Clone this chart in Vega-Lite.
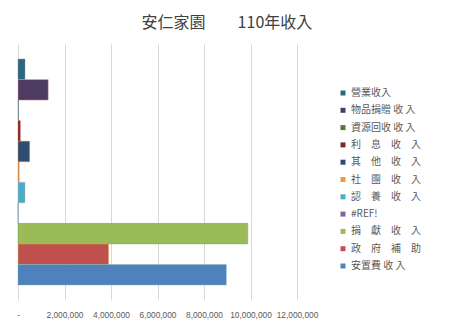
{
  "$schema": "https://vega.github.io/schema/vega-lite/v6.json",
  "width": 279,
  "height": 256,
  "autosize": {"type": "none"},
  "padding": {"left": 18, "top": 44, "right": 158, "bottom": 27},
  "background": "white",
  "title": {
    "text": "安仁家園　　110年收入",
    "font": "Noto Sans CJK TC",
    "fontSize": 16,
    "fontWeight": "normal",
    "color": "#404040",
    "anchor": "start",
    "dx": 125,
    "offset": 13
  },
  "data": {
    "values": [
      {"series": "營業收入", "value": 300000},
      {"series": "物品捐贈 收 入", "value": 1300000},
      {"series": "資源回收 收 入", "value": 20000},
      {"series": "利　息　收　入", "value": 100000},
      {"series": "其　他　收　入", "value": 500000},
      {"series": "社　團　收　入", "value": 50000},
      {"series": "認　養　收　入", "value": 300000},
      {"series": "#REF!", "value": 0},
      {"series": "捐　獻　收　入", "value": 9880000},
      {"series": "政　府　補　助", "value": 3900000},
      {"series": "安置費 收 入", "value": 8960000}
    ]
  },
  "mark": {"type": "bar", "strokeWidth": 0.8, "strokeOpacity": 0.5},
  "encoding": {
    "y": {
      "field": "series",
      "type": "nominal",
      "sort": null,
      "axis": null,
      "scale": {"paddingInner": 0, "paddingOuter": 0.73}
    },
    "x": {
      "field": "value",
      "type": "quantitative",
      "scale": {"domain": [0, 12000000], "nice": false},
      "axis": {
        "values": [0, 2000000, 4000000, 6000000, 8000000, 10000000, 12000000],
        "labelExpr": "datum.value == 0 ? '-' : format(datum.value, ',')",
        "labelOverlap": false,
        "labelBound": false,
        "labelFlush": false,
        "domain": false,
        "ticks": false,
        "labelPadding": 10,
        "labelFont": "Liberation Sans",
        "labelFontSize": 8.3,
        "labelColor": "#595959",
        "gridColor": "#D9D9D9",
        "gridWidth": 1,
        "title": null
      }
    },
    "color": {
      "field": "series",
      "type": "nominal",
      "scale": {
        "domain": ["營業收入", "物品捐贈 收 入", "資源回收 收 入", "利　息　收　入", "其　他　收　入", "社　團　收　入", "認　養　收　入", "#REF!", "捐　獻　收　入", "政　府　補　助", "安置費 收 入"],
        "range": ["#276A7C", "#4D3B62", "#5F7530", "#772C2A", "#2C4D75", "#F79646", "#4BACC6", "#8064A2", "#9BBB59", "#C0504D", "#4F81BD"]
      },
      "legend": {
        "orient": "none",
        "legendX": 320,
        "legendY": 44,
        "title": null,
        "symbolType": "square",
        "symbolSize": 25,
        "symbolStrokeWidth": 0,
        "labelFont": "Noto Sans CJK TC",
        "labelFontSize": 10,
        "labelColor": "#595959",
        "labelOffset": 3,
        "rowPadding": 7.3
      }
    },
    "stroke": {"field": "series", "type": "nominal", "legend": null}
  },
  "config": {"view": {"stroke": null}}
}
